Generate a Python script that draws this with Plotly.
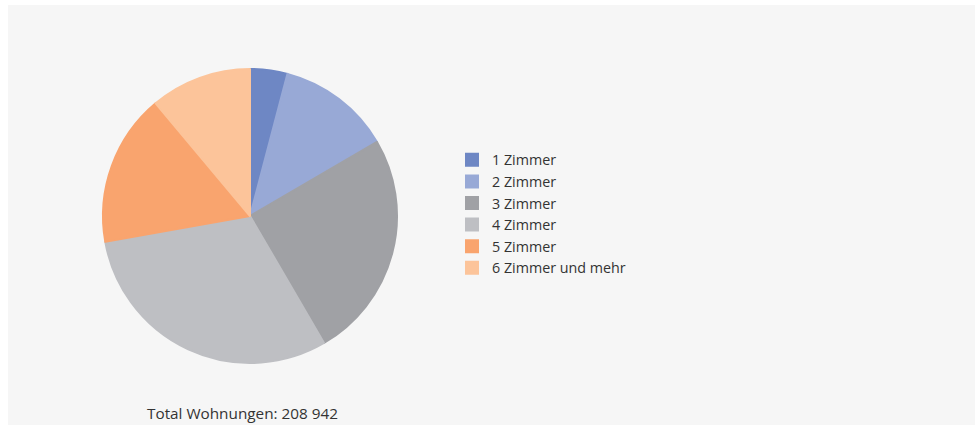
import plotly.graph_objects as go

categories = ["1 Zimmer", "2 Zimmer", "3 Zimmer", "4 Zimmer", "5 Zimmer", "6 Zimmer und mehr"]
values = [8566, 26118, 52236, 63936, 34893, 23193]
colors = ["#6e87c4", "#98a9d6", "#a0a1a5", "#bebfc3", "#f9a46e", "#fcc49a"]
total_label = "Total Wohnungen: 208 942"

W, H = 980, 425
FONT = "'Open Sans', Lato, sans-serif"

fig = go.Figure()
fig.add_trace(go.Pie(
    labels=categories,
    values=values,
    sort=False,
    direction="clockwise",
    rotation=0,
    textinfo="none",
    marker=dict(colors=colors, line=dict(width=2, color=colors)),
    domain=dict(x=[103 / W, 397 / W], y=[62 / H, 356 / H]),
    hoverinfo="label+percent",
))

fig.update_layout(
    width=W, height=H,
    margin=dict(l=0, r=0, t=0, b=0),
    paper_bgcolor="white",
    font=dict(family=FONT, size=15, color="#333333"),
    showlegend=True,
    legend=dict(x=452 / W, y=1 - 144 / H, xanchor="left", yanchor="top",
                bgcolor="rgba(0,0,0,0)", font=dict(size=14.3, color="#333333"),
                itemwidth=30),
    shapes=[dict(type="rect", xref="paper", yref="paper",
                 x0=8 / W, x1=975 / W, y0=0, y1=1 - 5 / H,
                 fillcolor="#f6f6f6", line=dict(width=0), layer="below")],
    annotations=[dict(text=total_label, xref="paper", yref="paper",
                      x=242 / W, y=1 - 413 / H, xanchor="center", yanchor="middle",
                      showarrow=False, font=dict(size=15.3, color="#333333"))],
)

fig.write_html("out.html", config={"displayModeBar": False},
               post_script="document.body.style.margin='0';")
